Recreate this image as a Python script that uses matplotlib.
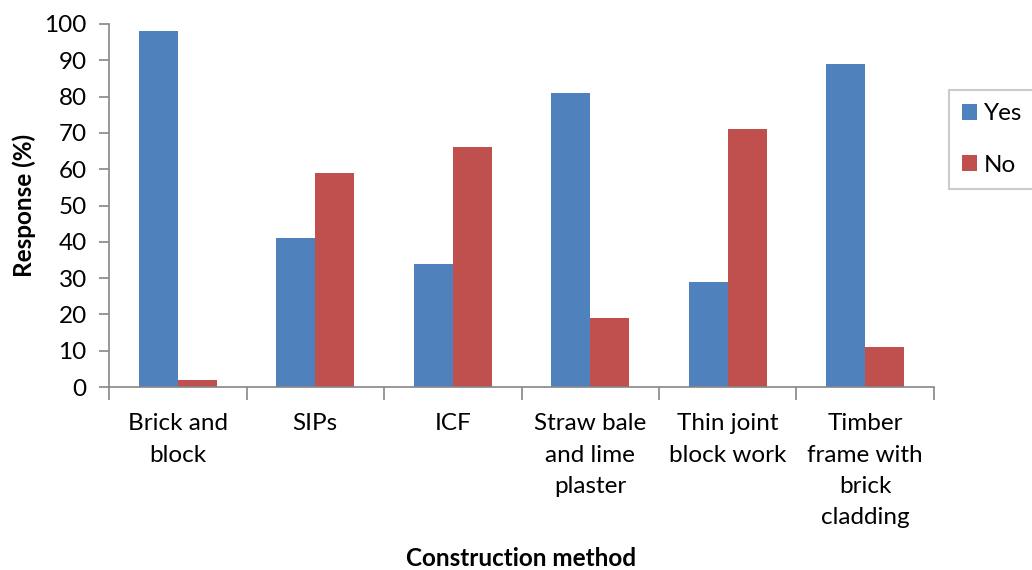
import numpy as np
import matplotlib.pyplot as plt

# data
methods = ["Brick and\nblock", "SIPs", "ICF", "Straw bale\nand lime\nplaster",
           "Thin joint\nblock work", "Timber\nframe with\nbrick\ncladding"]
yes = [98, 41, 34, 81, 29, 89]
no = [2, 59, 66, 19, 71, 11]
yticks = list(range(0, 101, 10))

blue = "#4F81BD"
red = "#C0504D"
grey = "#868686"

plt.rcParams['font.family'] = ['Lato', 'DejaVu Sans']
fs = 17.5

fig = plt.figure(figsize=(10.32, 5.70), dpi=100)
ax = fig.add_axes([109/1032, 1-387/570, (934-109)/1032, (387-24)/570])

x = np.arange(len(methods))
w = 0.285
ax.bar(x - w/2, yes, w, color=blue, label="Yes")
ax.bar(x + w/2, no, w, color=red, label="No")

ax.set_xlim(-0.5, len(methods) - 0.5)
ax.set_ylim(0, 100)
ax.set_yticks(yticks)
ax.tick_params(axis='y', labelsize=fs, length=7, width=1.2, color=grey, pad=9)

# category labels centred, ticks at group boundaries
ax.set_xticks(x)
ax.set_xticklabels(methods, fontsize=fs, linespacing=1.6, va='top')
ax.tick_params(axis='x', length=0, pad=19)
ax.set_xticks(np.arange(-0.5, len(methods)), minor=True)
ax.tick_params(axis='x', which='minor', length=9, width=1.2, color=grey)

for s in ['top', 'right']:
    ax.spines[s].set_visible(False)
for s in ['left', 'bottom']:
    ax.spines[s].set_color(grey)
    ax.spines[s].set_linewidth(1.2)

ax.set_ylabel("Response (%)", fontsize=fs, fontweight='bold', labelpad=6)
fig.text(521/1032, 1-558/570, "Construction method", fontsize=fs,
         fontweight='bold', ha='center', va='center')

leg = fig.legend(loc='upper left', bbox_to_anchor=(949/1032, 1-90/570),
                 fontsize=fs, frameon=True, fancybox=False, handlelength=0.6,
                 handleheight=0.6, handletextpad=0.3, labelspacing=1.25,
                 borderpad=0.55, borderaxespad=0)
leg.get_frame().set_edgecolor("#BFBFBF")
leg.get_frame().set_linewidth(1.5)

fig.savefig("out.png", dpi=100)
